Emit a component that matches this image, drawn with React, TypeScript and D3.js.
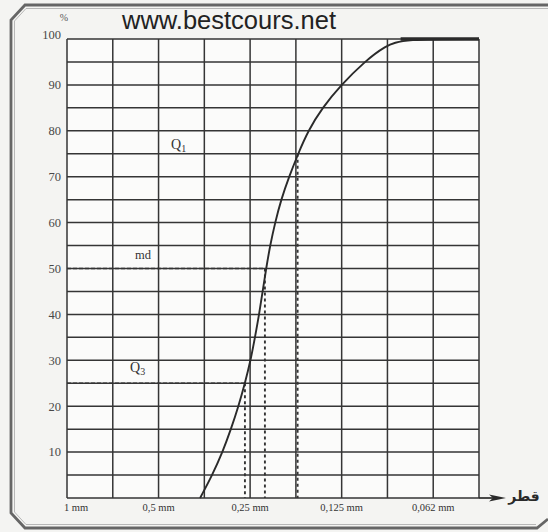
import React from "react";
import * as d3 from "d3";

// cumulative curve: grain diameter (mm) vs cumulative percent
const diameters = [0.365, 0.333, 0.308, 0.289, 0.273, 0.260, 0.249, 0.241, 0.2335, 0.2274, 0.2214, 0.2149, 0.2069, 0.1977, 0.1861, 0.1738, 0.1611, 0.1449, 0.1255, 0.1054, 0.0899, 0.0784, 0.0442];
const cumPercent = [0, 5, 10, 15, 20, 25, 30, 35, 40, 45, 50, 55, 60, 65, 70, 75, 80, 85, 90, 95, 98.5, 100, 100];

// quartiles
const quartNames = ["Q", "md", "Q"];
const quartSubs = ["3", "", "1"];
const quartPercent = [25, 50, 75];
const quartDiam = [0.260, 0.2235, 0.1745];

// axes
const xTickValues = [1, 0.5, 0.25, 0.125, 0.0625];
const xTickLabels = ["1 mm", "0,5 mm", "0,25 mm", "0,125 mm", "0,062 mm"];
const yTickValues = [10, 20, 30, 40, 50, 60, 70, 80, 90, 100];
const gridPhi = [0, 0.5, 1, 1.5, 2, 2.5, 3, 3.5, 4, 4.5];
const gridPct = d3.range(0, 101, 5);

const W = 548, H = 532;

export default function App() {
  const x = d3.scaleLog().base(2).domain([1, Math.pow(2, -4.5)]).range([67, 479]);
  const y = d3.scaleLinear().domain([0, 100]).range([498, 39]);
  const line = d3.line<number>()
    .x((_, i) => x(diameters[i]))
    .y((p) => y(p))
    .curve(d3.curveBasis);
  const ink = "#333";
  const serif = "'Liberation Serif', 'DejaVu Serif', serif";

  return (
    <svg width={W} height={H} style={{ position: "absolute", left: 0, top: 0 }}>
      <rect width={W} height={H} fill="#f4f4f2" />
      {/* frame */}
      <path d="M548,5 L25,5 L11,20 L11,513 L25,528 L537,528 L548,519" fill="none" stroke="#666" strokeWidth={2.8} />
      <path d="M548,8.5 L26,8.5 L14.5,21 L14.5,512 L26,524.5 L536,524.5" fill="none" stroke="#b0b0b0" strokeWidth={0.9} />
      {/* plot background */}
      <rect x={x(1)} y={y(100)} width={x(Math.pow(2, -4.5)) - x(1)} height={y(0) - y(100)} fill="#fbfbfa" />
      {/* grid */}
      {gridPct.map((p) => (
        <line key={"h" + p} x1={x(1)} x2={x(Math.pow(2, -4.5))} y1={y(p)} y2={y(p)} stroke="#353535" strokeWidth={1.5} />
      ))}
      {gridPhi.map((ph) => (
        <line key={"v" + ph} x1={x(Math.pow(2, -ph))} x2={x(Math.pow(2, -ph))} y1={y(100)} y2={y(0)} stroke="#353535" strokeWidth={1.5} />
      ))}
      {/* quartile guides */}
      {quartPercent.map((p, i) => (
        <g key={"q" + i}>
          {p !== 75 && (
            <line x1={x(1)} x2={x(quartDiam[i])} y1={y(p)} y2={y(p)} stroke={ink} strokeWidth={1.7} strokeDasharray="4,2" />
          )}
          <line x1={x(quartDiam[i])} x2={x(quartDiam[i])} y1={y(p)} y2={y(0)} stroke={ink} strokeWidth={1.9} strokeDasharray="3,3" />
        </g>
      ))}
      {/* curve */}
      <path d={line(cumPercent) || ""} fill="none" stroke="#2a2a2a" strokeWidth={1.9} />
      <line x1={x(0.08)} x2={x(Math.pow(2, -4.5))} y1={y(100)} y2={y(100)} stroke="#2a2a2a" strokeWidth={3.4} />
      {/* quartile labels */}
      <text x={130} y={372} fontFamily={serif} fontSize={14} fill={ink}>
        {quartNames[0]}<tspan fontSize={10} dy={3}>{quartSubs[0]}</tspan>
      </text>
      <text x={135} y={259} fontFamily={serif} fontSize={12.5} fill={ink}>{quartNames[1]}</text>
      <text x={171} y={149} fontFamily={serif} fontSize={14} fill={ink}>
        {quartNames[2]}<tspan fontSize={10} dy={3}>{quartSubs[2]}</tspan>
      </text>
      {/* y ticks */}
      {yTickValues.map((v) => (
        <text key={"yt" + v} x={61} y={y(v) + (v === 100 ? -4 : 0)} dy="0.35em" textAnchor="end" fontFamily={serif} fontSize={12.5} fill="#484848">{v}</text>
      ))}
      <text x={64} y={21} textAnchor="middle" fontFamily={serif} fontSize={10} fill="#555">%</text>
      {/* x ticks */}
      {xTickValues.map((v, i) => (
        <text key={"xt" + v} x={x(v) + (i === 0 ? 9 : 0)} y={511} textAnchor="middle" fontFamily={serif} fontSize={10.5} fill={ink}>{xTickLabels[i]}</text>
      ))}
      {/* x arrow */}
      <line x1={x(Math.pow(2, -4.5))} x2={496} y1={y(0)} y2={y(0)} stroke="#2a2a2a" strokeWidth={1.7} />
      <path d={`M506,${y(0)} L489,${y(0) - 3.5} L493,${y(0)} L489,${y(0) + 3.5} Z`} fill="#2a2a2a" />
      <text x={524} y={y(0) + 3} textAnchor="middle" fontFamily="'DejaVu Sans', sans-serif" fontSize={14} fontWeight="bold" fill="#2a2a2a">قطر</text>
      {/* watermark title */}
      <text x={229} y={29} textAnchor="middle" fontFamily="'Liberation Sans', Arial, sans-serif" fontSize={25.5} fill="#222">www.bestcours.net</text>
    </svg>
  );
}
